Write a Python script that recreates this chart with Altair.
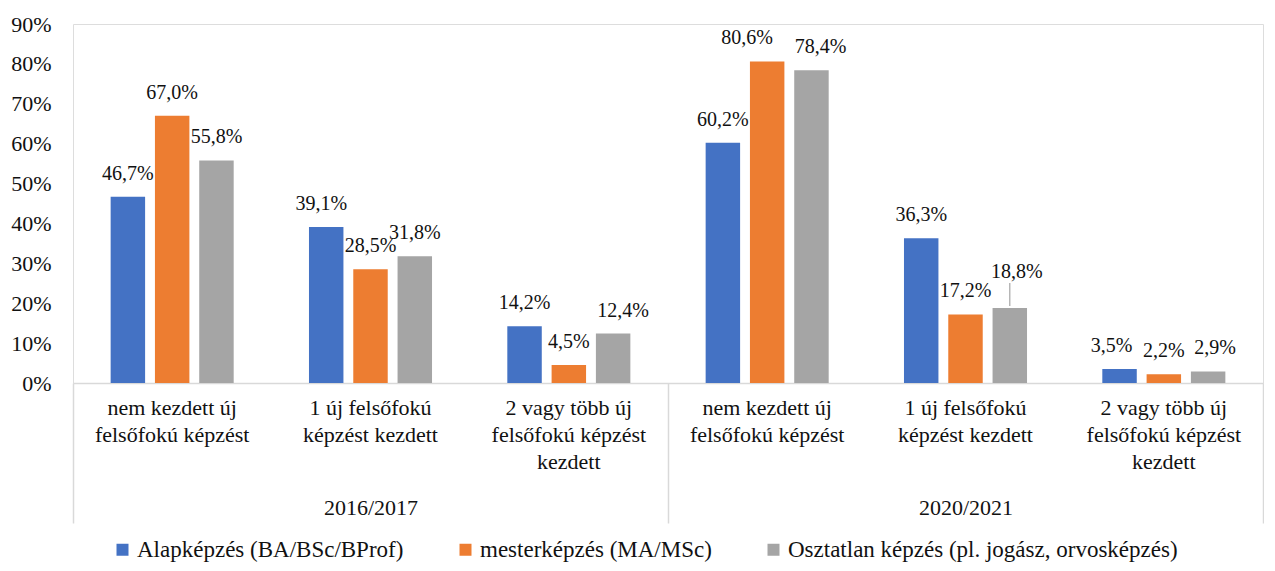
import altair as alt
import pandas as pd

years = ["2016/2017", "2020/2021"]
categories = [
    "nem kezdett új|felsőfokú képzést",
    "1 új felsőfokú|képzést kezdett",
    "2 vagy több új|felsőfokú képzést|kezdett",
]
series = [
    "Alapképzés (BA/BSc/BProf)",
    "mesterképzés (MA/MSc)",
    "Osztatlan képzés (pl. jogász, orvosképzés)",
]
colors = ["#4472C4", "#ED7D31", "#A5A5A5"]

# values in order: 2016/2017 x 3 categories, then 2020/2021 x 3 categories
alap = [46.7, 39.1, 14.2, 60.2, 36.3, 3.5]
mester = [67.0, 28.5, 4.5, 80.6, 17.2, 2.2]
osztatlan = [55.8, 31.8, 12.4, 78.4, 18.8, 2.9]
y_ticks = [0, 10, 20, 30, 40, 50, 60, 70, 80, 90]

rows = []
keys = []
for yi, yr in enumerate(years):
    for ci, cat in enumerate(categories):
        key = yr + "#" + cat
        keys.append(key)
        idx = yi * 3 + ci
        for si, (s, vals) in enumerate(zip(series, [alap, mester, osztatlan])):
            rows.append({"year_idx": yi, "cat_idx": ci, "series_idx": si,
                         "key": key, "series": s, "value": vals[idx]})
df = pd.DataFrame(rows)
year_df = pd.DataFrame({"year": years})

FONT = "Liberation Serif"
TXT = "#111111"

x_enc = alt.X(
    "key:N",
    sort=keys,
    scale=alt.Scale(paddingInner=0, paddingOuter=0),
    axis=alt.Axis(
        title=None,
        labelExpr="split(split(datum.label, '#')[1], '|')",
        labelAngle=0,
        ticks=False,
        domainColor="#D9D9D9",
        domainWidth=1.5,
        labelFont=FONT,
        labelFontSize=22,
        labelColor=TXT,
        labelLineHeight=27,
        labelPadding=14,
        labelLimit=400,
        labelBaseline="top",
    ),
)
xoff_enc = alt.XOffset(
    "series:N", sort=series, scale=alt.Scale(paddingInner=0.222, paddingOuter=0.85)
)
y_enc = alt.Y(
    "value:Q",
    scale=alt.Scale(domain=[0, 90], nice=False),
    axis=alt.Axis(
        title=None,
        values=y_ticks,
        labelExpr="datum.value + '%'",
        domain=False,
        ticks=False,
        grid=False,
        labelFont=FONT,
        labelFontSize=22,
        labelColor=TXT,
        labelPadding=22,
    ),
)
color_enc = alt.Color(
    "series:N",
    sort=series,
    scale=alt.Scale(domain=series, range=colors),
    legend=alt.Legend(
        title=None,
        orient="none",
        legendX=38,
        legendY=514,
        direction="horizontal",
        symbolType="square",
        symbolSize=144,
        symbolStrokeWidth=0,
        labelFont=FONT,
        labelFontSize=23,
        labelColor=TXT,
        labelOffset=3,
        columnPadding=50,
        labelLimit=600,
        padding=0,
    ),
)

base = alt.Chart(df).transform_calculate(
    label="replace(format(datum.value, '.1f'), '.', ',') + '%'"
)

bars = base.mark_bar().encode(x=x_enc, xOffset=xoff_enc, y=y_enc, color=color_enc)

# label nudges (year index, category index, series index, dx, dy) as placed in the original
nudges = [
    (0, 1, 0, -5, 0),
    (1, 0, 1, -20, 0),
    (1, 0, 2, 9, 0),
    (0, 2, 2, 10, 0),
    (1, 2, 0, -8, 0),
    (1, 2, 2, 7, 0),
    (1, 1, 2, 7, -13),
]


def sel(yi, ci, si):
    return f"datum.year_idx == {yi} && datum.cat_idx == {ci} && datum.series_idx == {si}"


not_nudged = " && ".join(f"!({sel(a, b, c)})" for a, b, c, _, _ in nudges)

layers = [bars]
layers.append(
    base.mark_text(baseline="alphabetic", dy=-17, font=FONT, fontSize=20, color=TXT)
    .encode(x=x_enc, xOffset=xoff_enc, y=y_enc, text="label:N")
    .transform_filter(not_nudged)
)
for a, b, c, dx, dy in nudges:
    layers.append(
        base.mark_text(baseline="alphabetic", dx=dx, dy=-17 + dy, font=FONT, fontSize=20, color=TXT)
        .encode(x=x_enc, xOffset=xoff_enc, y=y_enc, text="label:N")
        .transform_filter(sel(a, b, c))
    )

leader = base.mark_rule(color="#A5A5A5", strokeWidth=1.2, yOffset=-2, y2Offset=-25).encode(
    x=x_enc, xOffset=xoff_enc, y=y_enc, y2=alt.Y2("value:Q")
).transform_filter(sel(1, 1, 2))
layers.append(leader)

main = alt.layer(*layers)

year_layer = alt.Chart(year_df).mark_bar(opacity=0).encode(
    x=alt.X(
        "year:N",
        sort=years,
        scale=alt.Scale(type="band", paddingInner=0, paddingOuter=0),
        axis=alt.Axis(
            title=None,
            orient="bottom",
            domain=False,
            ticks=True,
            tickBand="extent",
            tickSize=140,
            tickColor="#D9D9D9",
            tickWidth=1.5,
            labelPadding=-26,
            labelAngle=0,
            labelBaseline="top",
            labelFont=FONT,
            labelFontSize=22,
            labelColor=TXT,
        ),
    )
)

chart = (
    alt.layer(main, year_layer)
    .resolve_scale(x="independent")
    .properties(
        width=1190,
        height=359,
        padding={"left": 2, "top": 5, "right": 0, "bottom": 0},
    )
    .configure_view(stroke=None)
    .configure(font=FONT)
)

chart.save("out.html", embed_options={"renderer": "svg", "actions": False})
